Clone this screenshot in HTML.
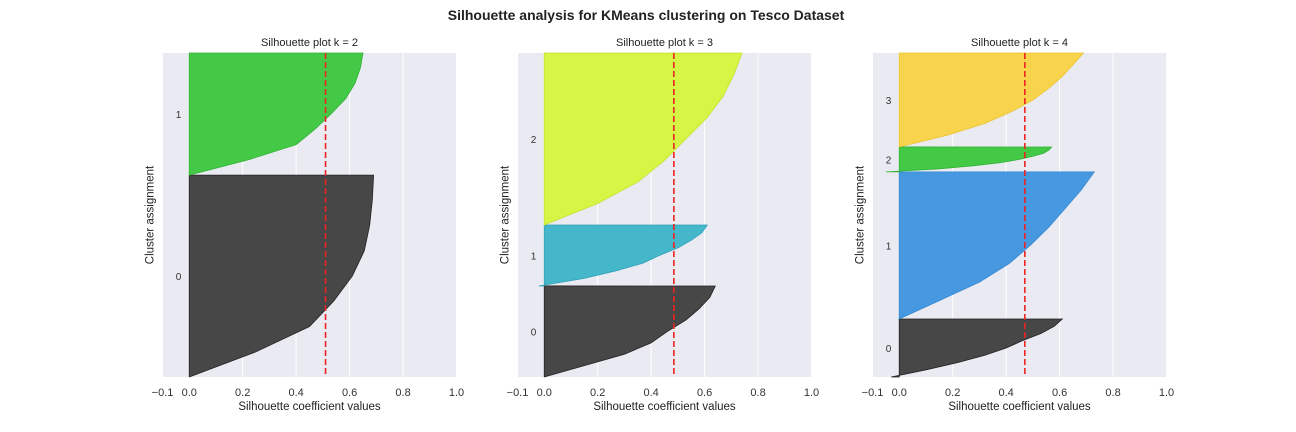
<!DOCTYPE html>
<html><head><meta charset="utf-8"><style>
body{margin:0;background:#fff;}
svg{display:block;font-family:"Liberation Sans",sans-serif;}
</style></head><body>
<svg id="chart" width="1296" height="432" viewBox="0 0 1296 432" xmlns="http://www.w3.org/2000/svg">
<text x="646" y="20" text-anchor="middle" font-size="14" font-weight="bold" fill="#222">Silhouette analysis for KMeans clustering on Tesco Dataset</text>
</svg>
<script>
// Cluster boundaries (y data units, 0..100 visible) per panel
const bounds2 = [0, 62.3, 100];
const bounds3 = [0, 28.1, 46.9, 100];
const bounds4 = [0, 17.9, 63.3, 71.0, 100];
// Sorted silhouette values per cluster, sampled at equal steps bottom->top
const k2c0 = [0, 0.25, 0.45, 0.54, 0.61, 0.655, 0.675, 0.685, 0.69];
const k2c1 = [0, 0.22, 0.40, 0.47, 0.53, 0.585, 0.62, 0.64, 0.65];
const k3c0 = [0, 0.15, 0.30, 0.40, 0.46, 0.53, 0.58, 0.62, 0.64];
const k3c1 = [-0.02, 0.15, 0.27, 0.37, 0.43, 0.50, 0.55, 0.59, 0.61];
const k3c2 = [0, 0.20, 0.35, 0.45, 0.53, 0.61, 0.67, 0.71, 0.74];
const k4c0 = [-0.03, 0.10, 0.22, 0.32, 0.40, 0.46, 0.53, 0.58, 0.61];
const k4c1 = [0, 0.15, 0.30, 0.41, 0.49, 0.56, 0.62, 0.68, 0.73];
const k4c2 = [-0.05, 0.15, 0.28, 0.38, 0.45, 0.50, 0.54, 0.56, 0.57];
const k4c3 = [0, 0.18, 0.32, 0.42, 0.50, 0.56, 0.61, 0.65, 0.69];
const means = [0.51, 0.485, 0.47];
const xTicks = [-0.1, 0, 0.2, 0.4, 0.6, 0.8, 1.0];
const xTickLabels = ["\u22120.1", "0.0", "0.2", "0.4", "0.6", "0.8", "1.0"];

const NS = "http://www.w3.org/2000/svg";
const svg = document.getElementById('chart');
function mk(tag, attrs, parent){
  const e = document.createElementNS(NS, tag);
  for (const k in attrs) e.setAttribute(k, attrs[k]);
  (parent || svg).appendChild(e);
  return e;
}
const panels = [
  {left:162.5, k:2, bounds:bounds2, data:[k2c0,k2c1], colors:["#474747","#44c947"], edge:["#222","#2fb232"]},
  {left:517.5, k:3, bounds:bounds3, data:[k3c0,k3c1,k3c2], colors:["#474747","#45b7cb","#d6f545"], edge:["#222","#30a3b8","#c3e232"]},
  {left:872.5, k:4, bounds:bounds4, data:[k4c0,k4c1,k4c2,k4c3], colors:["#474747","#4699e0","#44c947","#f7d44b"], edge:["#222","#3588d0","#2fb232","#e9c437"]}
];
const W = 294, TOP = 53, BOT = 377;
panels.forEach((p, pi) => {
  const g = mk('g', {});
  
  
  const xs = v => p.left + (v + 0.1) / 1.1 * W;
  const ys = v => BOT - v / 100 * (BOT - TOP);
  const bg = mk('rect', {x:p.left, y:TOP, width:W, height:BOT-TOP, fill:'#eaeaf2'}, g);
  
  
  xTicks.forEach((t, i) => {
    const gl = mk('line', {x1:xs(t), x2:xs(t), y1:TOP, y2:BOT, stroke:'#fff', 'stroke-width':1}, g);
    
    
    const tl = mk('text', {x:xs(t), y:396, 'text-anchor':'middle', 'font-size':11, fill:'#333'}, g);
    tl.textContent = xTickLabels[i];
    
    
  });
  p.data.forEach((vals, ci) => {
    const y0 = p.bounds[ci], y1 = p.bounds[ci+1];
    const n = vals.length;
    let d = 'M' + xs(0) + ',' + ys(y0);
    vals.forEach((v, j) => {
      const yy = y0 + (y1 - y0) * j / (n - 1);
      d += ' L' + xs(v).toFixed(1) + ',' + ys(yy).toFixed(1);
    });
    d += ' L' + xs(0) + ',' + ys(y1) + ' Z';
    const path = mk('path', {d:d, fill:p.colors[ci], stroke:p.edge[ci], 'stroke-width':0.8}, g);
    
    
    const lbl = mk('text', {x:xs(-0.04), y:ys((y0 + Math.min(y1, 100)) / 2) + 4, 'text-anchor':'middle', 'font-size':10, fill:'#333'}, g);
    lbl.textContent = String(ci);
    
    
  });
  const ml = mk('line', {x1:xs(means[pi]), x2:xs(means[pi]), y1:TOP, y2:BOT, stroke:'#ee2222', 'stroke-width':1.6, 'stroke-dasharray':'6,3'}, g);
  
  
  const tt = mk('text', {x:p.left + W/2, y:46, 'text-anchor':'middle', 'font-size':11, fill:'#222'}, g);
  tt.textContent = 'Silhouette plot k = ' + p.k;
  
  
  const xl = mk('text', {x:p.left + W/2, y:410, 'text-anchor':'middle', 'font-size':11.5, fill:'#222'}, g);
  xl.textContent = 'Silhouette coefficient values';
  
  
  const yx = p.left - 9, yy = (TOP + BOT) / 2;
  const yl = mk('text', {x:yx, y:yy, 'text-anchor':'middle', 'font-size':11.5, fill:'#222', transform:'rotate(-90 ' + yx + ' ' + yy + ')'}, g);
  yl.textContent = 'Cluster assignment';
  
  
});
</script>
</body></html>
